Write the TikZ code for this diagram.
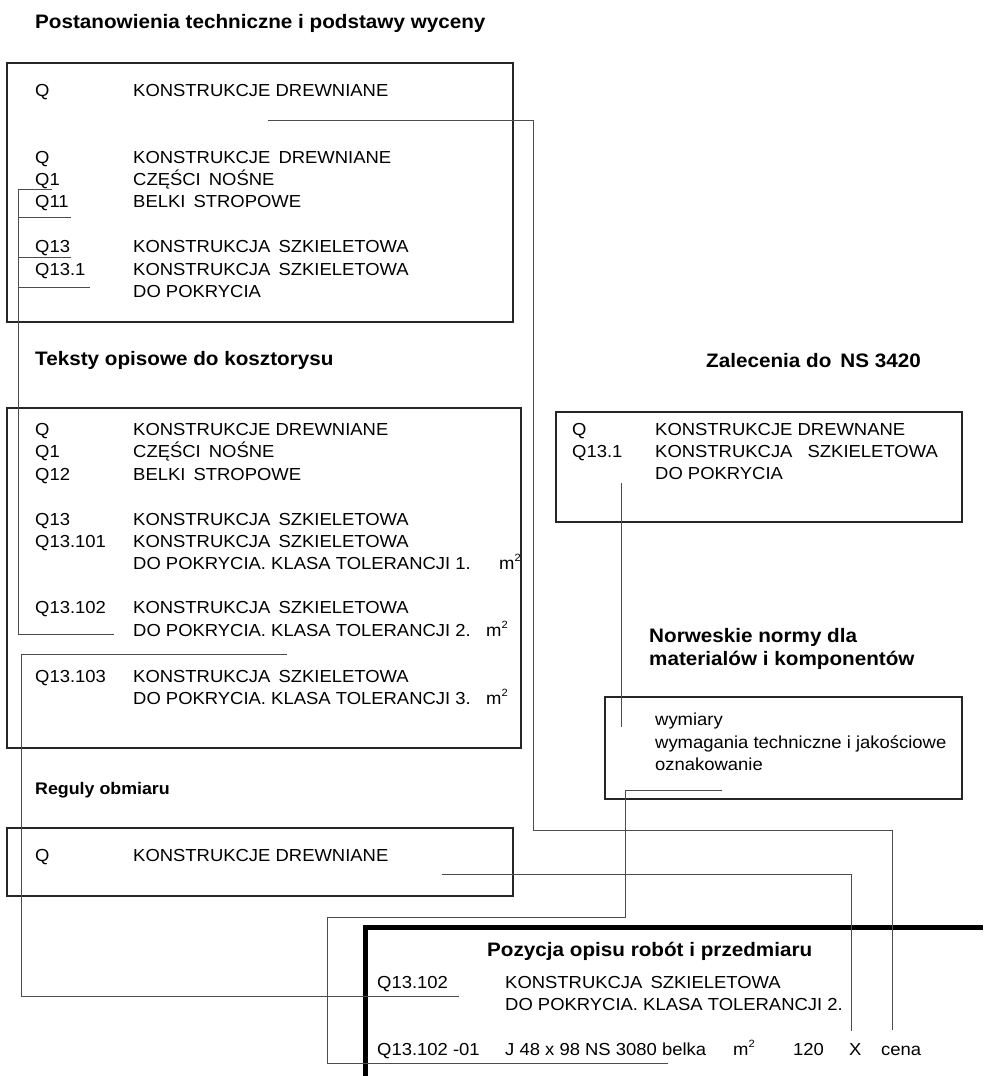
\documentclass[tikz,border=0pt]{standalone}
\usepackage{fontspec}
\setmainfont{Liberation Sans}[FakeStretch=1.06]
\newcommand{\sqm}{m\raisebox{0.42em}{\fontsize{10.5}{10.5}\selectfont 2}}
\begin{document}
\begin{tikzpicture}[x=1pt,y=-1pt,
  txt/.style={anchor=base west,inner sep=0pt,font=\fontsize{17.4}{20}\selectfont},
  hdr/.style={anchor=base west,inner sep=0pt,font=\fontsize{19.5}{22}\selectfont\bfseries},
  hdrs/.style={anchor=base west,inner sep=0pt,font=\fontsize{16.8}{20}\selectfont\bfseries},
  frame/.style={draw=black!85,line width=1.1pt},
  conn/.style={draw=black!70,line width=1pt},
  heavy/.style={draw=black,line width=5pt}]
\useasboundingbox (0,0) rectangle (983,1076);
\fill[white] (0,0) rectangle (983,1076);

% ---------- box 1
\node[hdr] (t1) at (35,28) {Postanowienia techniczne i podstawy wyceny};
\draw[frame] (7,63) rectangle (513,322);
\node[txt] (a1c) at (35,96) {Q};
\node[txt] (a1t) at (133,96) {KONSTRUKCJE DREWNIANE};
\node[txt] (a2c) at (35,163) {Q};
\node[txt] (a2t) at (133,163) {KONSTRUKCJE\, DREWNIANE};
\node[txt] (a3c) at (35,185) {Q1};
\node[txt] (a3t) at (133,185) {CZĘŚCI\, NOŚNE};
\node[txt] (a4c) at (35,207) {Q11};
\node[txt] (a4t) at (133,207) {BELKI\, STROPOWE};
\node[txt] (a5c) at (35,252) {Q13};
\node[txt] (a5t) at (133,252) {KONSTRUKCJA\, SZKIELETOWA};
\node[txt] (a6c) at (35,275) {Q13.1};
\node[txt] (a6t) at (133,275) {KONSTRUKCJA\, SZKIELETOWA};
\node[txt] (a7t) at (133,297) {DO POKRYCIA};

% ---------- box 2
\node[hdr] (t2) at (35,365) {Teksty opisowe do kosztorysu};
\draw[frame] (7,408) rectangle (521,748);
\node[txt] (b1c) at (35,435) {Q};
\node[txt] (b1t) at (133,435) {KONSTRUKCJE DREWNIANE};
\node[txt] (b2c) at (35,457) {Q1};
\node[txt] (b2t) at (133,457) {CZĘŚCI\, NOŚNE};
\node[txt] (b3c) at (35,480) {Q12};
\node[txt] (b3t) at (133,480) {BELKI\, STROPOWE};
\node[txt] (b4c) at (35,525) {Q13};
\node[txt] (b4t) at (133,525) {KONSTRUKCJA\, SZKIELETOWA};
\node[txt] (b5c) at (35,547) {Q13.101};
\node[txt] (b5t) at (133,547) {KONSTRUKCJA\, SZKIELETOWA};
\node[txt] (b6t) at (133,569) {DO POKRYCIA. KLASA TOLERANCJI 1.};
\node[txt] (b6u) at (499,569) {\sqm};
\node[txt] (b7c) at (35,613) {Q13.102};
\node[txt] (b7t) at (133,613) {KONSTRUKCJA\, SZKIELETOWA};
\node[txt] (b8t) at (133,636) {DO POKRYCIA. KLASA TOLERANCJI 2.};
\node[txt] (b8u) at (486,636) {\sqm};
\node[txt] (b9c) at (35,682) {Q13.103};
\node[txt] (b9t) at (133,682) {KONSTRUKCJA\, SZKIELETOWA};
\node[txt] (b10t) at (133,704) {DO POKRYCIA. KLASA TOLERANCJI 3.};
\node[txt] (b10u) at (486,704) {\sqm};

% ---------- NS 3420 box
\node[hdr] (t3) at (706,367) {Zalecenia do\, NS 3420};
\draw[frame] (556,412) rectangle (962,522);
\node[txt] (c1c) at (572,435) {Q};
\node[txt] (c1t) at (655,435) {KONSTRUKCJE DREWNANE};
\node[txt] (c2c) at (572,457) {Q13.1};
\node[txt] (c2t) at (655,457) {KONSTRUKCJA\hspace{10pt} SZKIELETOWA};
\node[txt] (c3t) at (655,479) {DO POKRYCIA};

% ---------- norms box
\node[hdr] (t4) at (649,642) {Norweskie normy dla};
\node[hdr] (t4b) at (649,665) {materialów i komponentów};
\draw[frame] (605,697) rectangle (962,799);
\node[txt] (d1) at (655,725) {wymiary};
\node[txt] (d2) at (655,748) {wymagania techniczne i jakościowe};
\node[txt] (d3) at (655,770) {oznakowanie};

% ---------- measuring rules box
\node[hdrs] (t5) at (35,794) {Reguly obmiaru};
\draw[frame] (7,828) rectangle (513,896);
\node[txt] (e1c) at (35,861) {Q};
\node[txt] (e1t) at (133,861) {KONSTRUKCJE DREWNIANE};

% ---------- bold item box
\draw[heavy] (983,927.5) -- (365.5,927.5) -- (365.5,1076);
\node[hdr] (t6) at (487,956) {Pozycja opisu robót i przedmiaru};
\node[txt] (f1c) at (377,988) {Q13.102};
\node[txt] (f1t) at (505,988) {KONSTRUKCJA\, SZKIELETOWA};
\node[txt] (f2t) at (505,1010) {DO POKRYCIA. KLASA TOLERANCJI 2.};
\node[txt] (f3c) at (377,1055) {Q13.102 -01};
\node[txt] (f3t) at (505,1055) {J 48 x 98 NS 3080 belka};
\node[txt] (f3u) at (733,1055) {\sqm};
\node[txt] (f3n) at (793,1055) {120};
\node[txt] (f3x) at (849,1055) {X};
\node[txt] (f3p) at (881,1055) {cena};

% ---------- connectors
\coordinate (pA0) at (268,120);
\coordinate (pA1) at (892,1030);
\draw[conn] (pA0) -- (533,120) -- (533,830) -- (892,830) -- (pA1);

\coordinate (pB0) at (52,189);
\coordinate (pB1) at (114,634);
\draw[conn] (pB0) -- (18,189) -- (18,634) -- (pB1);
\draw[conn] (18,217) -- (71,217);
\draw[conn] (18,257) -- (71,257);
\draw[conn] (18,287) -- (90,287);

\coordinate (pC0) at (287,654);
\coordinate (pC1) at (459,996);
\draw[conn] (pC0) -- (21,654) -- (21,996) -- (pC1);

\coordinate (pD0) at (621,483);
\coordinate (pD1) at (621,727);
\draw[conn] (pD0) -- (pD1);

\coordinate (pE0) at (722,790);
\coordinate (pE1) at (668,1063);
\draw[conn] (pE0) -- (625,790) -- (625,917) -- (327,917) -- (327,1063) -- (pE1);

\coordinate (pF0) at (442,874);
\coordinate (pF1) at (851,1031);
\draw[conn] (pF0) -- (851,874) -- (pF1);
\end{tikzpicture}
\end{document}
